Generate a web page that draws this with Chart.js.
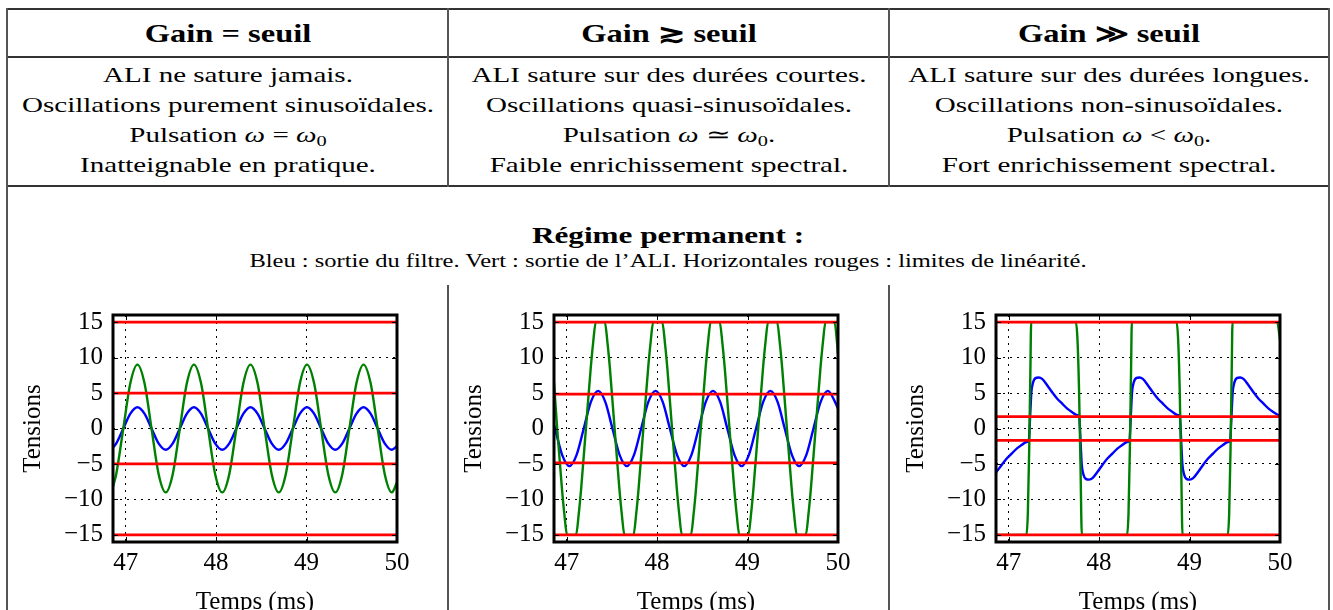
<!DOCTYPE html>
<html>
<head>
<meta charset="utf-8">
<script src="https://cdn.jsdelivr.net/npm/chart.js@4/dist/chart.umd.min.js"></script>
<style>
  html, body { margin: 0; padding: 0; background: #fff; overflow: hidden; width: 1333px; height: 610px; }
  body { position: relative; font-family: "Liberation Serif", serif; color: #000; }
  .hl { position: absolute; height: 2px; background: #333; }
  .vl { position: absolute; width: 2px; background: #555; }
  .txt { position: absolute; text-align: center; white-space: nowrap; }
  .hdr { font-weight: bold; font-size: 25px; line-height: 30px; transform: scaleX(1.3); }
  .body { font-size: 21.5px; line-height: 30px; transform: scaleX(1.35); }
  .ttl { font-weight: bold; font-size: 24px; line-height: 30px; transform: scaleX(1.3); }
  .sub { font-size: 18px; line-height: 24px; transform: scaleX(1.36); }
  sub { font-size: 0.7em; vertical-align: -0.25em; line-height: 0; }
  canvas { position: absolute; }
</style>
</head>
<body>
<!-- cadre du tableau -->
<div class="hl" style="left:6px;width:1324px;top:8px"></div>
<div class="hl" style="left:6px;width:1324px;top:56px"></div>
<div class="hl" style="left:6px;width:1324px;top:185px"></div>
<div class="vl" style="left:6px;top:8px;height:602px"></div>
<div class="vl" style="left:1328px;top:8px;height:602px"></div>
<div class="vl" style="left:447px;top:8px;height:179px"></div>
<div class="vl" style="left:888px;top:8px;height:179px"></div>
<div class="vl" style="left:447px;top:285px;height:325px"></div>
<div class="vl" style="left:888px;top:285px;height:325px"></div>

<div class="txt hdr" style="left:8px;width:440px;top:19px">Gain = seuil</div>
<div class="txt hdr" style="left:449px;width:440px;top:19px">Gain ≳ seuil</div>
<div class="txt hdr" style="left:890px;width:438px;top:19px">Gain ≫ seuil</div>

<div class="txt body" style="left:8px;width:440px;top:60px">
ALI ne sature jamais.<br>Oscillations purement sinusoïdales.<br>Pulsation <i>ω</i> = <i>ω</i><sub>0</sub><br>Inatteignable en pratique.</div>
<div class="txt body" style="left:449px;width:440px;top:60px">
ALI sature sur des durées courtes.<br>Oscillations quasi-sinusoïdales.<br>Pulsation <i>ω</i> ≃ <i>ω</i><sub>0</sub>.<br>Faible enrichissement spectral.</div>
<div class="txt body" style="left:890px;width:438px;top:60px">
ALI sature sur des durées longues.<br>Oscillations non-sinusoïdales.<br>Pulsation <i>ω</i> &lt; <i>ω</i><sub>0</sub>.<br>Fort enrichissement spectral.</div>

<div class="txt ttl" style="left:8px;width:1320px;top:220px">Régime permanent :</div>
<div class="txt sub" style="left:8px;width:1320px;top:249px">Bleu : sortie du filtre. Vert : sortie de l’ALI. Horizontales rouges : limites de linéarité.</div>

<canvas id="c1" width="438" height="330" style="left:8px;top:290px"></canvas>
<canvas id="c2" width="438" height="330" style="left:449px;top:290px"></canvas>
<canvas id="c3" width="438" height="330" style="left:891px;top:290px"></canvas>

<script>
const X_MIN = 46.86, X_MAX = 50;
const Y_MIN = -16, Y_MAX = 16;
const xStep = 1, yStep = 5;

// Graphe 1 : gain = seuil (temps en ms, tensions en V)
const t1 = [46.86,
  46.896, 46.974, 47.052, 47.130, 47.208, 47.286, 47.364, 47.443,
  47.521, 47.599, 47.677, 47.755, 47.833, 47.911, 47.989, 48.068,
  48.146, 48.224, 48.302, 48.380, 48.458, 48.536, 48.614, 48.693,
  48.771, 48.849, 48.927, 49.005, 49.083, 49.161, 49.239, 49.318,
  49.396, 49.474, 49.552, 49.630, 49.708, 49.786, 49.864, 49.943,
  50.0];
const filtre1 = [-2.7,
  -2.1, 0, 2.1, 3, 2.1, 0, -2.1, -3,
  -2.1, 0, 2.1, 3, 2.1, 0, -2.1, -3,
  -2.1, 0, 2.1, 3, 2.1, 0, -2.1, -3,
  -2.1, 0, 2.1, 3, 2.1, 0, -2.1, -3,
  -2.1, 0, 2.1, 3, 2.1, 0, -2.1, -3,
  -2.5];
const ali1 = [-8.2,
  -6.4, 0, 6.4, 9, 6.4, 0, -6.4, -9,
  -6.4, 0, 6.4, 9, 6.4, 0, -6.4, -9,
  -6.4, 0, 6.4, 9, 6.4, 0, -6.4, -9,
  -6.4, 0, 6.4, 9, 6.4, 0, -6.4, -9,
  -6.4, 0, 6.4, 9, 6.4, 0, -6.4, -9,
  -7.6];
const limites1 = [15, 5, -5, -15];

// Graphe 2 : gain un peu au-dessus du seuil
const tFiltre2 = [46.86,
  46.871, 46.951, 47.030, 47.109, 47.189, 47.268, 47.348, 47.427,
  47.506, 47.586, 47.665, 47.744, 47.824, 47.903, 47.983, 48.062,
  48.141, 48.221, 48.300, 48.379, 48.459, 48.538, 48.618, 48.697,
  48.776, 48.856, 48.935, 49.014, 49.094, 49.173, 49.253, 49.332,
  49.411, 49.491, 49.570, 49.649, 49.729, 49.808, 49.888, 49.967,
  50.0];
const filtre2 = [0.5,
  0, -3.75, -5.3, -3.75, 0, 3.75, 5.3, 3.75,
  0, -3.75, -5.3, -3.75, 0, 3.75, 5.3, 3.75,
  0, -3.75, -5.3, -3.75, 0, 3.75, 5.3, 3.75,
  0, -3.75, -5.3, -3.75, 0, 3.75, 5.3, 3.75,
  0, -3.75, -5.3, -3.75, 0, 3.75, 5.3, 3.75,
  2.8];
const tAli2 = [46.86,
  46.895, 46.948, 46.974, 47.004, 47.104, 47.134, 47.160,
  47.213, 47.266, 47.292, 47.322, 47.422, 47.452, 47.478,
  47.530, 47.583, 47.609, 47.639, 47.739, 47.769, 47.795,
  47.848, 47.901, 47.927, 47.957, 48.057, 48.087, 48.113,
  48.165, 48.218, 48.244, 48.274, 48.374, 48.404, 48.430,
  48.483, 48.536, 48.562, 48.592, 48.692, 48.722, 48.748,
  48.800, 48.853, 48.879, 48.909, 49.009, 49.039, 49.065,
  49.118, 49.171, 49.197, 49.227, 49.327, 49.357, 49.383,
  49.435, 49.488, 49.514, 49.544, 49.644, 49.674, 49.700,
  49.753, 49.806, 49.832, 49.862, 49.962, 49.990,
  50.0];
const ali2 = [6.5,
  0, -8.5, -12, -15, -15, -12, -8.5,
  0, 8.5, 12, 15, 15, 12, 8.5,
  0, -8.5, -12, -15, -15, -12, -8.5,
  0, 8.5, 12, 15, 15, 12, 8.5,
  0, -8.5, -12, -15, -15, -12, -8.5,
  0, 8.5, 12, 15, 15, 12, 8.5,
  0, -8.5, -12, -15, -15, -12, -8.5,
  0, 8.5, 12, 15, 15, 12, 8.5,
  0, -8.5, -12, -15, -15, -12, -8.5,
  0, 8.5, 12, 15, 15, 12,
  10.5];
const limites2 = [15, 4.85, -4.85, -15];

// Graphe 3 : gain très supérieur au seuil
const tFiltre3 = [46.86, 46.925, 46.981, 47.036, 47.092, 47.147, 47.196,
  47.222, 47.240, 47.251, 47.270, 47.296, 47.333, 47.370, 47.426, 47.481, 47.537, 47.592, 47.648, 47.703, 47.752,
  47.779, 47.797, 47.808, 47.827, 47.853, 47.890, 47.927, 47.983, 48.038, 48.094, 48.149, 48.205, 48.260, 48.309,
  48.335, 48.353, 48.364, 48.383, 48.409, 48.446, 48.483, 48.539, 48.594, 48.650, 48.705, 48.761, 48.816, 48.865,
  48.892, 48.910, 48.921, 48.940, 48.966, 49.003, 49.040, 49.096, 49.151, 49.207, 49.262, 49.318, 49.373, 49.422,
  49.448, 49.466, 49.477, 49.496, 49.522, 49.559, 49.596, 49.652, 49.707, 49.763, 49.818, 49.874, 49.929, 49.978,
  50.0];
const filtre3 = [-6.2, -5.1, -4.2, -3.5, -2.8, -2.3, -1.9,
  -1.7, 2.4, 5.1, 6.5, 7.1, 7.2, 7.0, 6.1, 5.1, 4.2, 3.5, 2.8, 2.3, 1.9,
  1.7, -2.4, -5.1, -6.5, -7.1, -7.2, -7.0, -6.1, -5.1, -4.2, -3.5, -2.8, -2.3, -1.9,
  -1.7, 2.4, 5.1, 6.5, 7.1, 7.2, 7.0, 6.1, 5.1, 4.2, 3.5, 2.8, 2.3, 1.9,
  1.7, -2.4, -5.1, -6.5, -7.1, -7.2, -7.0, -6.1, -5.1, -4.2, -3.5, -2.8, -2.3, -1.9,
  -1.7, 2.4, 5.1, 6.5, 7.1, 7.2, 7.0, 6.1, 5.1, 4.2, 3.5, 2.8, 2.3, 1.9,
  1.75];
const tAli3 = [46.86,
  47.197, 47.212, 47.227, 47.240, 47.249,
  47.744, 47.761, 47.777, 47.794, 47.809,
  48.310, 48.325, 48.340, 48.353, 48.362,
  48.857, 48.874, 48.890, 48.907, 48.922,
  49.423, 49.438, 49.453, 49.466, 49.475,
  49.969, 50.0];
const ali3 = [-15,
  -15, -12, -3, 8, 15,
  15, 12.5, 6, -5, -15,
  -15, -12, -3, 8, 15,
  15, 12.5, 6, -5, -15,
  -15, -12, -3, 8, 15,
  15, 12.5];
const limites3 = [15, 1.67, -1.67, -15];

const FONT = "'Liberation Serif', serif";
const toPoints = (ts, vs) => ts.map((t, i) => ({ x: t, y: vs[i] }));
const minus = v => String(v).replace('-', '\u2212');

// cadre épais + graduations vers l'intérieur, comme matplotlib
const framePlugin = {
  id: 'frame',
  afterDatasetsDraw(chart) {
    const { ctx, chartArea: a, scales: { x, y } } = chart;
    ctx.save();
    ctx.strokeStyle = '#000';
    ctx.lineWidth = 1;
    ctx.setLineDash([]);
    ctx.beginPath();
    x.ticks.forEach(t => {
      const px = Math.round(x.getPixelForValue(t.value)) + 0.5;
      ctx.moveTo(px, a.top); ctx.lineTo(px, a.top + 5);
      ctx.moveTo(px, a.bottom); ctx.lineTo(px, a.bottom - 5);
    });
    y.ticks.forEach(t => {
      const py = Math.round(y.getPixelForValue(t.value)) + 0.5;
      ctx.moveTo(a.left, py); ctx.lineTo(a.left + 5, py);
      ctx.moveTo(a.right, py); ctx.lineTo(a.right - 5, py);
    });
    ctx.stroke();
    ctx.lineWidth = 3;
    ctx.strokeRect(a.left, a.top, a.width, a.height);
    ctx.restore();
  }
};

function makeChart(id, tBlue, blue, tGreen, green, limites) {
  const datasets = limites.map(v => ({
    data: [{ x: X_MIN, y: v }, { x: X_MAX, y: v }],
    borderColor: '#ff0000',
    borderWidth: 2.8,
    order: 0
  }));
  datasets.push({
    data: toPoints(tGreen, green),
    borderColor: '#008000',
    borderWidth: 2.4,
    cubicInterpolationMode: 'monotone',
    order: 1
  });
  datasets.push({
    data: toPoints(tBlue, blue),
    borderColor: '#0000ff',
    borderWidth: 2.4,
    cubicInterpolationMode: 'monotone',
    order: 2
  });

  new Chart(document.getElementById(id), {
    type: 'line',
    data: { datasets },
    options: {
      responsive: false,
      animation: false,
      events: [],
      layout: { padding: { left: 0, right: 49, top: 21, bottom: 0 } },
      elements: { point: { radius: 0 }, line: { fill: false } },
      plugins: { legend: { display: false }, tooltip: { enabled: false } },
      scales: {
        x: {
          type: 'linear',
          min: X_MIN,
          max: X_MAX,
          ticks: {
            stepSize: xStep, includeBounds: false, padding: 6, color: '#000',
            maxRotation: 0, autoSkip: false,
            font: { family: FONT, size: 25 },
            callback: minus
          },
          grid: { color: '#000', lineWidth: 1, drawTicks: false },
          border: { display: false, dash: [2, 5] },
          title: {
            display: true, text: 'Temps (ms)', color: '#000',
            font: { family: FONT, size: 25 }, padding: { top: 0, bottom: 3 }
          },
          afterFit: s => { s.height = 78; }
        },
        y: {
          min: Y_MIN,
          max: Y_MAX,
          ticks: {
            stepSize: yStep, includeBounds: false, padding: 10, color: '#000',
            font: { family: FONT, size: 25 },
            callback: minus
          },
          grid: { color: '#000', lineWidth: 1, drawTicks: false },
          border: { display: false, dash: [2, 5] },
          title: {
            display: true, text: 'Tensions', color: '#000',
            font: { family: FONT, size: 25 }, padding: { top: 10, bottom: 0 }
          },
          afterFit: s => { s.width = 105; }
        }
      }
    },
    plugins: [framePlugin]
  });
}

makeChart('c1', t1, filtre1, t1, ali1, limites1);
makeChart('c2', tFiltre2, filtre2, tAli2, ali2, limites2);
makeChart('c3', tFiltre3, filtre3, tAli3, ali3, limites3);
</script>
</body>
</html>
